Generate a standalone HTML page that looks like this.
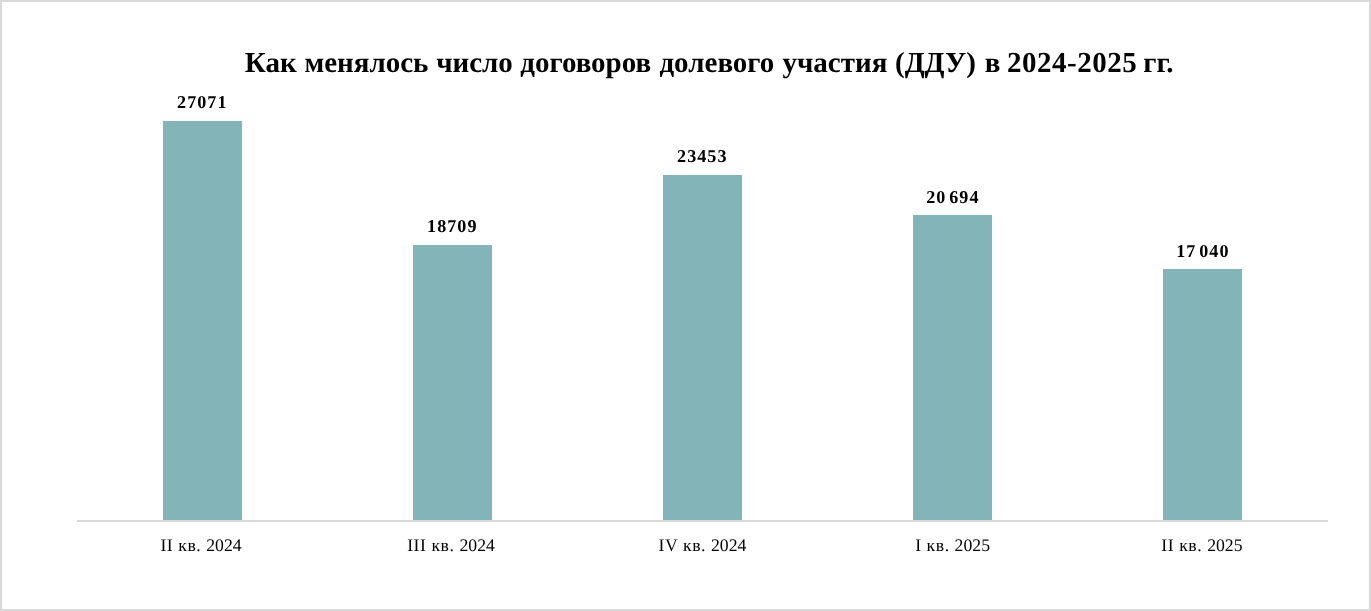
<!DOCTYPE html>
<html lang="ru">
<head>
<meta charset="utf-8">
<title>ДДУ 2024-2025</title>
<style>
html,body{margin:0;padding:0;background:#fff;}
body{width:1371px;height:611px;position:relative;overflow:hidden;font-family:"Liberation Serif","Times New Roman",serif;color:#000;text-rendering:geometricPrecision;}
#frame{position:absolute;left:0;top:0;width:1367px;height:607px;border:2px solid #d9d9d9;background:#fff;}
#title{position:absolute;left:244.8px;top:44.6px;width:1100px;text-align:left;font-weight:bold;font-size:29px;line-height:36px;white-space:nowrap;}
.bar{position:absolute;width:79px;background:#83b4b8;}
#axis{position:absolute;left:77px;top:520px;width:1251px;height:2px;background:#d9d9d9;}
.val{position:absolute;width:160px;text-align:center;font-weight:bold;font-size:18.1px;line-height:20px;white-space:nowrap;letter-spacing:1.05px;}
.lt{letter-spacing:0.55px;}
.yr{letter-spacing:0.5px;}
.ts{letter-spacing:-0.9px;}
.cat{position:absolute;width:200px;text-align:center;font-size:17.7px;line-height:20px;top:535.2px;white-space:nowrap;}
</style>
</head>
<body>
<div id="frame"></div>
<div id="title"><span class="w" id="w0">Как</span> <span class="w" id="w1" style="margin-left:0.55px">менялось</span> <span class="w" id="w2" style="margin-left:0.45px">число</span> <span class="w" id="w3" style="margin-left:0.15px">договоров</span> <span class="w" id="w4" style="margin-left:1.0px">долевого</span> <span class="w" id="w5" style="margin-left:0.97px">участия</span> <span class="w" id="w6" style="margin-left:0.33px">(ДДУ)</span> <span class="w" id="w7" style="margin-left:1.6px">в</span> <span class="w" id="w8" style="margin-left:-0.5px"><span class="yr">2024-2025</span></span> <span class="w" id="w9" style="margin-left:-1.3px">гг.</span></div>

<div class="bar" style="left:163px;top:121px;height:399px"></div>
<div class="bar" style="left:413px;top:245px;height:275px"></div>
<div class="bar" style="left:663px;top:175px;height:345px"></div>
<div class="bar" style="left:913px;top:215px;height:305px"></div>
<div class="bar" style="left:1163px;top:269px;height:251px"></div>
<div id="axis"></div>

<div class="val" style="left:122.3px;top:92px">27071</div>
<div class="val" style="left:372.3px;top:216px">18709</div>
<div class="val" style="left:622.3px;top:146px">23453</div>
<div class="val" style="left:872.9px;top:187px">20<span class="ts">&#8201;</span>694</div>
<div class="val" style="left:1122.9px;top:241px">17<span class="ts">&#8201;</span>040</div>

<div class="cat" style="left:101px"><span class="lt">II кв. </span>2024</div>
<div class="cat" style="left:351px"><span class="lt">III кв. </span>2024</div>
<div class="cat" style="left:602.5px"><span class="lt">IV кв. </span>2024</div>
<div class="cat" style="left:852.6px"><span class="lt">I кв. </span>2025</div>
<div class="cat" style="left:1101.9px"><span class="lt">II кв. </span>2025</div>
</body>
</html>
